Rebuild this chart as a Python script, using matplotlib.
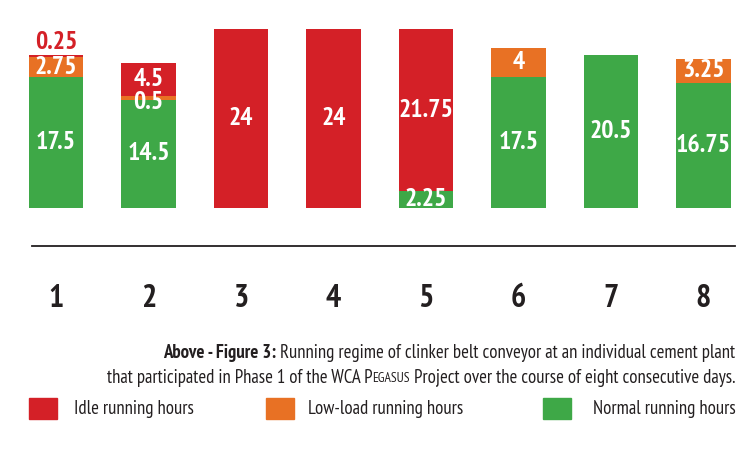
import matplotlib
matplotlib.use("Agg")
import matplotlib.pyplot as plt
from matplotlib.patches import Rectangle
from matplotlib.lines import Line2D

# data: hours per day for each running regime
days = [1, 2, 3, 4, 5, 6, 7, 8]
normal = [17.5, 14.5, 0, 0, 2.25, 17.5, 20.5, 16.75]
lowload = [2.75, 0.5, 0, 0, 0, 4, 0, 3.25]
idle = [0.25, 4.5, 24, 24, 21.75, 0, 0, 0]
series_names = ["Idle running hours", "Low-load running hours", "Normal running hours"]

RED = "#d42027"
ORANGE = "#e87124"
GREEN = "#3ea847"
DARK = "#231f20"

plt.rcParams["font.family"] = ["PT Sans Narrow", "DejaVu Sans"]

W, H = 750, 449
fig = plt.figure(figsize=(W / 100, H / 100), dpi=100)

# axes placed so that 0h sits at y=208px and 24h at y=29px
ax = fig.add_axes([9.75 / W, (H - 208) / H, 740 / W, 179 / H])
ax.set_xlim(0.5, 8.5)
ax.set_ylim(0, 24)
ax.axis("off")

bw = 0.585
b_low = normal
b_idle = [n + l for n, l in zip(normal, lowload)]
ax.bar(days, normal, bw, color=GREEN)
ax.bar(days, lowload, bw, bottom=b_low, color=ORANGE)
ax.bar(days, idle, bw, bottom=b_idle, color=RED)


def fmt(v):
    return "%g" % v


lab = dict(ha="center", va="center", color="white", fontsize=18.5, fontweight="bold")
for i, d in enumerate(days):
    if normal[i] > 0:
        ax.text(d, normal[i] / 2, fmt(normal[i]), **lab)
    if lowload[i] >= 1:
        ax.text(d, b_low[i] + lowload[i] / 2, fmt(lowload[i]), **lab)
    elif lowload[i] > 0:
        # thin slice: label sits just under it, as in the original
        ax.text(d, b_low[i] - 0.35, fmt(lowload[i]), **lab)
    if idle[i] >= 1:
        ax.text(d, b_idle[i] + idle[i] / 2, fmt(idle[i]), **lab)
    elif idle[i] > 0:
        ax.text(d, b_idle[i] + idle[i] + 0.1, fmt(idle[i]), ha="center", va="bottom",
                color=RED, fontsize=18.5, fontweight="bold")

# day numbers below the rule
for d in days:
    ax.text(d, -12.2, str(d), ha="center", va="center", color=DARK, fontsize=23, fontweight="bold")

fig.add_artist(Line2D([32 / W, 735 / W], [(H - 245.5) / H] * 2, color=DARK, lw=1.3))

# caption, right aligned, built from pieces
fig.canvas.draw()
r = fig.canvas.get_renderer()


def chain(pieces, y):
    x = 735
    for txt, kw in reversed(pieces):
        t = fig.text(x / W, (H - y) / H, txt, ha="right", va="center", color=DARK, **kw)
        bb = t.get_window_extent(r)
        x = bb.x0


fs = 13.5
chain([("Above - Figure 3: ", dict(fontsize=fs, fontweight="bold")),
       ("Running regime of clinker belt conveyor at an individual cement plant", dict(fontsize=fs))], 353)
chain([("that participated in Phase 1 of the WCA P", dict(fontsize=fs)),
       ("EGASUS", dict(fontsize=fs * 0.72)),
       (" Project over the course of eight consecutive days.", dict(fontsize=fs))], 378)

# legend
leg_x = [29, 266, 543]
leg_tx = [74, 308, 593]
for c, name, x0, tx in zip([RED, ORANGE, GREEN], series_names, leg_x, leg_tx):
    fig.add_artist(Rectangle((x0 / W, (H - 419) / H), 28 / W, 21 / H, color=c,
                             transform=fig.transFigure))
    fig.text(tx / W, (H - 409) / H, name, ha="left", va="center", color=DARK, fontsize=fs)

fig.savefig("out.png", dpi=100)
